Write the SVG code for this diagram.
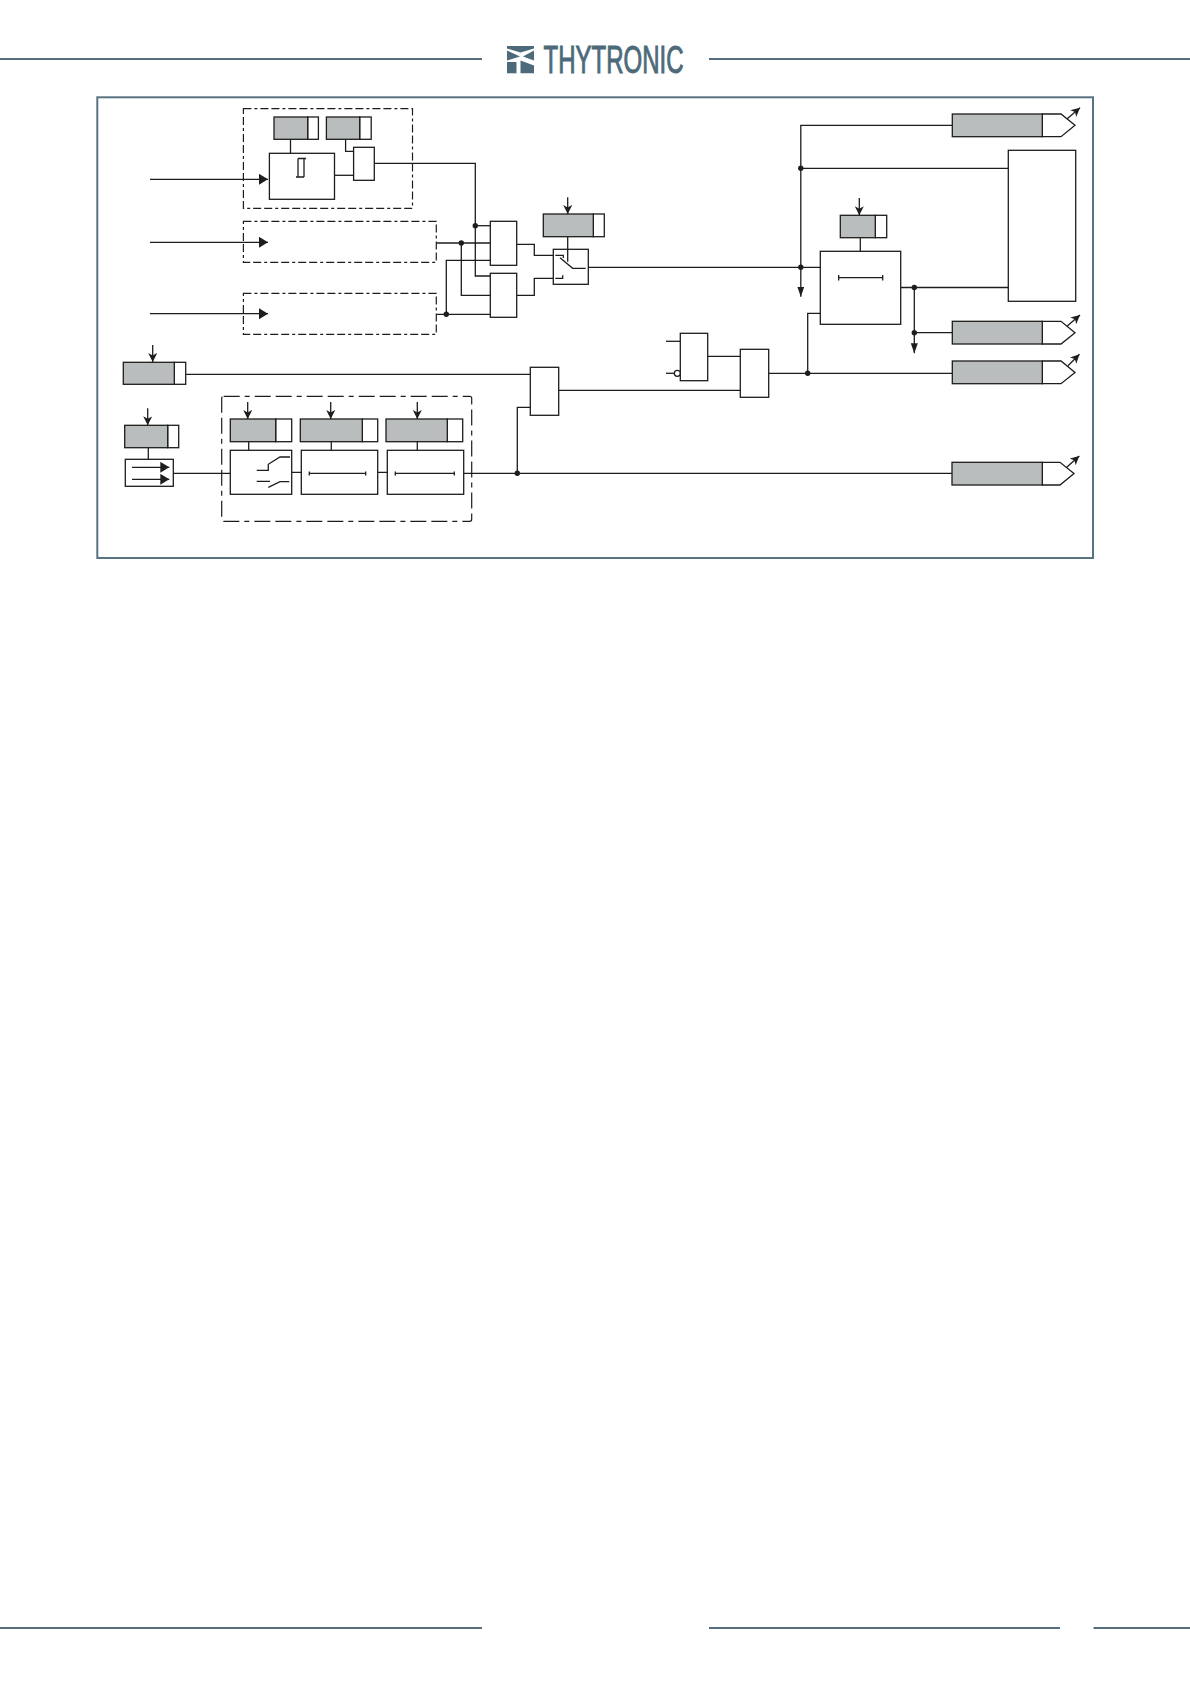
<svg xmlns="http://www.w3.org/2000/svg" width="1190" height="1684" viewBox="0 0 1190 1684">
<style>
.rule{stroke:#566e7d;stroke-width:2;fill:none}
.l{stroke:#1d1d1b;stroke-width:1.3;fill:none}
.b{stroke:#1d1d1b;stroke-width:1.3;fill:#fff}
.g{stroke:#1d1d1b;stroke-width:1.3;fill:#babdbd}
.d{stroke:#1d1d1b;stroke-width:1.2;fill:none;stroke-dasharray:8 3 3 3 8 3}
.dd{stroke:#1d1d1b;stroke-width:1.2;fill:none;stroke-dasharray:16 5 5 5 16 5}
.dot{fill:#1d1d1b}
.logo{fill:#4d6a7a}
</style>
<defs>
<marker id="ah" markerUnits="userSpaceOnUse" markerWidth="12" markerHeight="12" refX="9" refY="5.500" orient="auto"><path d="M0,0 L9,5.500 L0,11 Z" fill="#1d1d1b"/></marker>
<marker id="an" markerUnits="userSpaceOnUse" markerWidth="12" markerHeight="8" refX="10" refY="3.500" orient="auto"><path d="M0,0 L10,3.500 L0,7 Z" fill="#1d1d1b"/></marker>
<marker id="as" markerUnits="userSpaceOnUse" markerWidth="12" markerHeight="10" refX="9" refY="4.500" orient="auto"><path d="M0,0 L9,4.500 L0,9 L2.500,4.500 Z" fill="#1d1d1b"/></marker>
</defs>
<rect width="1190" height="1684" fill="#fff"/>
<g id="page-rules">
<path class="rule" d="M0,59H482M709,59H1190M0,1628H482M709,1628H1060M1093.500,1628H1190"/>
<rect x="97.300" y="97.300" width="995.700" height="460.700" fill="none" stroke="#5a7382" stroke-width="2"/>
</g>
<g id="logo">
<path class="logo" d="M507,46H534V48.500L520.500,52.500L507,48.500Z"/>
<path class="logo" d="M507,50.500L520,56.500L507,60.500Z"/>
<path class="logo" d="M534,50.500L523,56.500L534,60.500Z"/>
<path class="logo" d="M507,62H516.500V73.300H507Z"/>
<path class="logo" d="M520.500,60.500L534,65.500V73.300H520.500Z"/>
<text x="543.500" y="72.500" class="logo" stroke="#4d6a7a" stroke-width="1" font-family="'Liberation Sans Narrow','Liberation Sans',sans-serif" font-size="38" textLength="140" lengthAdjust="spacingAndGlyphs">THYTRONIC</text>
</g>
<g id="connectors">
<path class="l" marker-end="url(#ah)" d="M150,179.300H268"/>
<path class="l" marker-end="url(#ah)" d="M150,242.300H268"/>
<path class="l" marker-end="url(#ah)" d="M150,313.700H268"/>
<path class="l" d="M290.500,139.300V153.300"/>
<path class="l" d="M345.600,139.300V151.300H353.600"/>
<path class="l" d="M334.500,175.300H353.600"/>
<path class="l" d="M374.300,163.300H475.300V276H490.300"/>
<path class="l" d="M475.300,225.700H490.300"/>
<path class="l" d="M436.700,243H490.300"/>
<path class="l" d="M461.300,243V295.300H490.300"/>
<path class="l" d="M490.300,260.300H446.300V314.300"/>
<path class="l" d="M436.700,314.300H490.300"/>
<path class="l" d="M516.700,244.300H534.300V255.300H553.300"/>
<path class="l" d="M516.700,295.300H534.300V278.300H553.300"/>
<path class="l" d="M567.700,236.700V249.300"/>
<path class="l" marker-end="url(#as)" d="M567.700,197.300V214"/>
<path class="l" d="M588.300,267.300H820.300"/>
<path class="l" marker-end="url(#an)" d="M952.300,125.300H800.800V296.700"/>
<path class="l" d="M800.800,168.300H1008.300"/>
<path class="l" marker-end="url(#as)" d="M859.300,198V215.300"/>
<path class="l" d="M860.300,237.700V251.300"/>
<path class="l" d="M900.700,287.500H1008.300"/>
<path class="l" marker-end="url(#an)" d="M914.300,287.500V353.300"/>
<path class="l" d="M914.300,332.700H952.300"/>
<path class="l" d="M820.300,313.300H807.700V373.300"/>
<path class="l" d="M768.700,373.300H952.300"/>
<path class="l" d="M666,341.300H680.300"/>
<path class="l" d="M666,373.300H674.300"/>
<path class="l" d="M707.700,356.300H740.300"/>
<path class="l" d="M558.700,390.300H740.300"/>
<path class="l" d="M185.700,374.300H530.300"/>
<path class="l" d="M530.300,407.300H517.300V473.300"/>
<path class="l" marker-end="url(#as)" d="M152.700,345V362"/>
<path class="l" marker-end="url(#as)" d="M147.700,408.300V425.300"/>
<path class="l" d="M148.300,447.700V459.300"/>
<path class="l" d="M173.300,473.300H230.300"/>
<path class="l" marker-end="url(#as)" d="M247.700,402V419"/>
<path class="l" marker-end="url(#as)" d="M330.700,402V419"/>
<path class="l" marker-end="url(#as)" d="M417.300,402V419"/>
<path class="l" d="M248.700,441.700V450.300M331.300,441.700V450.300M417.300,441.700V450.300"/>
<path class="l" d="M291.700,472.300H301.300M377.700,472.300H387.300"/>
<path class="l" d="M463.700,473.300H952.300"/>
<path class="l" marker-end="url(#as)" d="M1066.700,119.300L1080,107.700"/>
<path class="l" marker-end="url(#as)" d="M1066.700,326.500L1080,315"/>
<path class="l" marker-end="url(#as)" d="M1068,365.700L1079.500,354.300"/>
<path class="l" marker-end="url(#as)" d="M1066.700,467.300L1079.300,456"/>
<circle class="dot" cx="475.300" cy="225.700" r="2.700"/>
<circle class="dot" cx="461.300" cy="243" r="2.700"/>
<circle class="dot" cx="446.300" cy="314.300" r="2.700"/>
<circle class="dot" cx="800.800" cy="168.300" r="2.700"/>
<circle class="dot" cx="800.800" cy="267.300" r="2.700"/>
<circle class="dot" cx="914.300" cy="287.500" r="2.700"/>
<circle class="dot" cx="914.300" cy="332.700" r="2.700"/>
<circle class="dot" cx="807.700" cy="373.300" r="2.700"/>
<circle class="dot" cx="517.300" cy="473.300" r="2.700"/>
</g>
<g id="group-top"><rect class="d" x="243.400" y="108.700" width="169.100" height="99.600"/></g>
<g id="group-mid"><rect class="d" x="243.400" y="221.300" width="192.900" height="41"/></g>
<g id="group-low"><rect class="d" x="243.400" y="293.300" width="192.900" height="41"/></g>
<g id="group-bottom"><rect class="dd" x="221.700" y="396.300" width="250" height="125" rx="2"/></g>
<g id="reg-1"><rect class="b" x="307.700" y="117" width="10.700" height="22.300"/><rect class="g" x="274" y="117" width="33.700" height="22.300"/></g>
<g id="reg-2"><rect class="b" x="359.700" y="117" width="11.500" height="22.300"/><rect class="g" x="326.400" y="117" width="33.300" height="22.300"/></g>
<g id="integrator"><rect class="b" x="269.400" y="153.300" width="65.100" height="46"/><path class="l" d="M298,158.500V177M304,158.500V177M296,177H304M298,158.500H306"/></g>
<g id="small-gate"><rect class="b" x="353.600" y="147.300" width="20.700" height="33"/></g>
<g id="and-1"><rect class="b" x="490.300" y="221.300" width="26.400" height="44"/></g>
<g id="and-2"><rect class="b" x="490.300" y="273.300" width="26.400" height="44"/></g>
<g id="reg-sw"><rect class="b" x="593.300" y="214" width="11" height="22.700"/><rect class="g" x="543.300" y="214" width="50" height="22.700"/></g>
<g id="switch"><rect class="b" x="553.300" y="249.300" width="35" height="35"/><path class="l" d="M555.300,255.300H563.300V258M560,257.700L572.700,268.300H585.700M555.300,278.300H562.700V275.300M567.700,249.300V261.700"/></g>
<g id="out-1"><path class="b" d="M1042.300,114H1061L1075,125.300L1061,136.700H1042.300Z"/><rect class="g" x="952.300" y="114" width="90" height="22.700"/></g>
<g id="out-2"><path class="b" d="M1042.300,321.300H1061L1075,332.700L1061,344H1042.300Z"/><rect class="g" x="952.300" y="321.300" width="90" height="22.700"/></g>
<g id="out-3"><path class="b" d="M1042.300,361H1061L1075,372.500L1061,383.700H1042.300Z"/><rect class="g" x="952.300" y="361" width="90" height="22.700"/></g>
<g id="out-4"><path class="b" d="M1042.300,462.300H1060L1074,473.500L1060,485H1042.300Z"/><rect class="g" x="952" y="462.300" width="90.300" height="22.700"/></g>
<g id="big-box"><rect class="b" x="1008.300" y="150.300" width="67.400" height="151"/></g>
<g id="reg-timer"><rect class="b" x="875.300" y="215.300" width="11.400" height="22.400"/><rect class="g" x="840.300" y="215.300" width="35" height="22.400"/></g>
<g id="timer"><rect class="b" x="820.300" y="251.300" width="80.400" height="73"/><path class="l" d="M838.700,277.700H882.700M838.700,275V280.400M882.700,275V280.400"/></g>
<g id="gate-a"><rect class="b" x="680.300" y="333.300" width="27.400" height="47.400"/><circle class="b" cx="677.300" cy="373.300" r="3"/></g>
<g id="gate-b"><rect class="b" x="740.300" y="349.300" width="28.400" height="48"/></g>
<g id="gate-c"><rect class="b" x="530.300" y="367.300" width="28.400" height="48"/></g>
<g id="reg-a"><rect class="b" x="174.300" y="362.300" width="11.400" height="22"/><rect class="g" x="123.300" y="362.300" width="51" height="22"/></g>
<g id="reg-b"><rect class="b" x="167.700" y="425.300" width="11" height="22.400"/><rect class="g" x="124.700" y="425.300" width="43" height="22.400"/></g>
<g id="selector"><rect class="b" x="125.300" y="459.300" width="48" height="27"/><path class="l" marker-end="url(#ah)" d="M132,467.300H169.300"/><path class="l" marker-end="url(#ah)" d="M132,479.300H169.300"/></g>
<g id="reg-c"><rect class="b" x="275.700" y="419" width="16" height="22.700"/><rect class="g" x="230.300" y="419" width="45.400" height="22.700"/></g>
<g id="reg-d"><rect class="b" x="362.300" y="419" width="15.400" height="22.700"/><rect class="g" x="300.300" y="419" width="62" height="22.700"/></g>
<g id="reg-e"><rect class="b" x="447.300" y="419" width="15.400" height="22.700"/><rect class="g" x="386" y="419" width="61.300" height="22.700"/></g>
<g id="sw-box"><rect class="b" x="230.300" y="450.300" width="61.400" height="44"/><path class="l" d="M256.700,470.300H268.300V464.300L280,457H290M256.700,481.300H270M268.300,487.300L280,481.700H289.300"/></g>
<g id="timer-2"><rect class="b" x="301.300" y="450.300" width="76.400" height="44"/><path class="l" d="M309.300,473.300H365.700M309.300,471.500V475.500M365.700,471.500V475.500"/></g>
<g id="timer-3"><rect class="b" x="387.300" y="450.300" width="76.400" height="44"/><path class="l" d="M395.300,473.300H454.300M395.300,471.500V475.500M454.300,471.500V475.500"/></g>
</svg>
